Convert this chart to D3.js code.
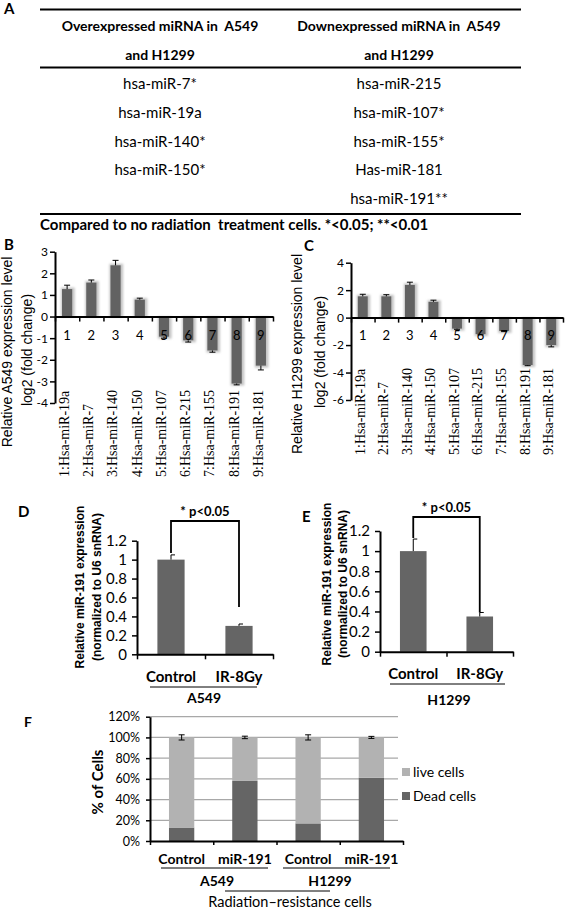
<!DOCTYPE html>
<html><head><meta charset="utf-8">
<script src="https://cdn.jsdelivr.net/npm/d3@7"></script>
<style>body{margin:0;background:#fff}svg{display:block}text{white-space:pre}</style>
</head><body><svg id="c" width="567" height="911"></svg>
<script>
// ---------------- DATA ----------------
const tableHeaders = [["Overexpressed miRNA in  A549", "and H1299"], ["Downexpressed miRNA in  A549", "and H1299"]];
const overexpressed = ["hsa-miR-7*", "hsa-miR-19a", "hsa-miR-140*", "hsa-miR-150*"];
const downexpressed = ["hsa-miR-215", "hsa-miR-107*", "hsa-miR-155*", "Has-miR-181", "hsa-miR-191**"];
const footnote = "Compared to no radiation  treatment cells. *<0.05; **<0.01";

const mirNumbers = ["1", "2", "3", "4", "5", "6", "7", "8", "9"];
const mirLabels = ["1:Hsa-miR-19a", "2:Hsa-miR-7", "3:Hsa-miR-140", "4:Hsa-miR-150", "5:Hsa-miR-107",
  "6:Hsa-miR-215", "7:Hsa-miR-155", "8:Hsa-miR-191", "9:Hsa-miR-181"];
const a549Fold = [1.27, 1.57, 2.37, 0.78, -0.93, -1.1, -1.57, -3.1, -2.27];
const a549FoldErr = [0.18, 0.12, 0.23, 0.07, 0.07, 0.08, 0.08, 0.06, 0.2];
const h1299Fold = [1.55, 1.55, 2.38, 1.15, -0.8, -1.2, -0.97, -3.45, -2.0];
const h1299FoldErr = [0.15, 0.12, 0.2, 0.12, 0.05, 0.05, 0.05, 0.05, 0.13];
const a549FoldTicks = [-4, -3, -2, -1, 0, 1, 2, 3];
const h1299FoldTicks = [-6, -4, -2, 0, 2, 4];

const expCategories = ["Control", "IR-8Gy"];
const a549Mir191 = [1.0, 0.30];
const a549Mir191Err = [0.05, 0.02];
const h1299Mir191 = [1.0, 0.35];
const h1299Mir191Err = [0.12, 0.04];
const expTicks = [0, 0.2, 0.4, 0.6, 0.8, 1, 1.2];
const pLabel = "* p<0.05";

const deathGroups = ["Control", "miR-191", "Control", "miR-191"];
const deathCellLines = ["A549", "H1299"];
const deadCells = [13, 58, 17, 61];
const liveCells = [87, 42, 83, 39];
const totalErr = [2.5, 1.2, 2.5, 1.0];
const pctTicks = [0, 20, 40, 60, 80, 100, 120];
const legendLabels = ["live cells", "Dead cells"];

// ---------------- STYLE ----------------
const CAL = "Lato, 'Open Sans', sans-serif";
const ARI = "'Liberation Sans', Arial, sans-serif";
const TNR = "'Liberation Serif', 'Times New Roman', serif";
const DARK = "#656565", LIGHT = "#b2b2b2";

const svg = d3.select("#c");
svg.append("rect").attr("width", 567).attr("height", 911).attr("fill", "#fff");
const defs = svg.append("defs");
defs.append("filter").attr("id", "glow").attr("x", "-50%").attr("y", "-20%").attr("width", "200%").attr("height", "140%")
  .append("feGaussianBlur").attr("stdDeviation", 1.3);

function txt(g, s, x, y, o = {}) {
  return g.append("text").text(s).attr("x", x).attr("y", y)
    .attr("font-family", o.f || CAL).attr("font-size", o.s || 14)
    .attr("font-weight", o.w || "normal").attr("text-anchor", o.a || "start").attr("fill", "#000");
}
function hline(x1, x2, y, w = 1) {
  svg.append("line").attr("x1", x1).attr("x2", x2).attr("y1", y).attr("y2", y).attr("stroke", "#000").attr("stroke-width", w);
}
function rotLabel(g, s, x, cy, o = {}) {
  return g.append("text").text(s).attr("transform", `translate(${x},${cy}) rotate(-90)`)
    .attr("text-anchor", "middle").attr("dy", "0.35em")
    .attr("font-family", o.f || ARI).attr("font-size", o.s || 15).attr("font-weight", o.w || "normal");
}
function styleAxis(ax, fs, font) {
  ax.select(".domain").attr("stroke", "#000").attr("stroke-width", 2);
  ax.selectAll(".tick line").attr("stroke", "#000").attr("stroke-width", 1.5);
  ax.selectAll(".tick text").attr("font-family", font || CAL).attr("font-size", fs).attr("fill", "#000");
}

// ---------------- PANEL A (table) ----------------
txt(svg, "A", 4, 14, { w: "bold", s: 15 });
hline(40, 521, 9.5, 1.8);
const colX = [160, 399];
tableHeaders.forEach((h, c) => {
  txt(svg, h[0], colX[c], 31, { w: "bold", a: "middle", s: 14 });
  txt(svg, h[1], colX[c], 60, { w: "bold", a: "middle", s: 14 });
});
hline(40, 521, 67.5, 1.8);
const rowY = d3.scalePoint().domain(d3.range(5)).range([89, 204]);
overexpressed.forEach((s, i) => txt(svg, s, colX[0], rowY(i), { a: "middle", s: 15 }));
downexpressed.forEach((s, i) => txt(svg, s, colX[1], rowY(i), { a: "middle", s: 15 }));
hline(40, 521, 214, 1.8);
txt(svg, footnote, 40, 230, { w: "bold", s: 15 });

// ---------------- PANELS B, C ----------------
function foldPanel(o) {
  const g = svg.append("g");
  const n = o.values.length;
  const x = d3.scaleBand().domain(d3.range(n)).range(o.xr).paddingInner(0.58).paddingOuter(0.29);
  const y = d3.scaleLinear().domain(d3.extent(o.ticks)).range(o.yr);
  const y0 = y(0);
  g.selectAll(".sh").data(o.values).join("rect")
    .attr("x", (d, i) => x(i) - 1).attr("width", x.bandwidth() + 3.5)
    .attr("y", d => Math.min(y(d), y0) - (d > 0 ? 1.5 : 0))
    .attr("height", d => Math.abs(y(d) - y0) + 2)
    .attr("fill", "#c4c4c4").attr("filter", "url(#glow)");
  g.selectAll(".bar").data(o.values).join("rect")
    .attr("x", (d, i) => x(i)).attr("width", x.bandwidth())
    .attr("y", d => Math.min(y(d), y0)).attr("height", d => Math.abs(y(d) - y0))
    .attr("fill", "#626262");
  o.values.forEach((v, i) => {
    const cx = x(i) + x.bandwidth() / 2;
    const e = v + Math.sign(v) * o.errs[i];
    g.append("line").attr("x1", cx).attr("x2", cx).attr("y1", y(v)).attr("y2", y(e)).attr("stroke", "#000").attr("stroke-width", 1);
    g.append("line").attr("x1", cx - 3).attr("x2", cx + 3).attr("y1", y(e)).attr("y2", y(e)).attr("stroke", "#000").attr("stroke-width", 1);
  });
  rotLabel(g, o.ylab[0], o.ylx[0], o.lcy, { s: 14 });
  rotLabel(g, o.ylab[1], o.ylx[1], o.lcy - 2, { s: 14 });
  const ya = g.append("g").attr("transform", `translate(${o.xr[0]},0)`)
    .call(d3.axisLeft(y).tickValues(o.ticks).tickSize(5).tickSizeOuter(0).tickPadding(2).tickFormat(d => d < 0 ? "\u2011" + Math.abs(d) : String(d)));
  styleAxis(ya, 12);
  const xl = d3.scaleLinear().domain([0, n]).range(o.xr);
  const xa = g.append("g").attr("transform", `translate(0,${y0})`)
    .call(d3.axisBottom(xl).tickValues(d3.range(n + 1)).tickSize(5).tickSizeOuter(0).tickFormat(""));
  styleAxis(xa, 12);
  mirNumbers.forEach((s, i) => txt(g, s, x(i) + x.bandwidth() / 2, o.numY, { a: "middle", s: 13 }));
  mirLabels.forEach((s, i) => {
    g.append("text").text(s)
      .attr("transform", `translate(${x(i) + x.bandwidth() / 2 - 3},${o.labY}) rotate(-90)`)
      .attr("dy", "0.35em").attr("font-family", TNR).attr("font-size", 14);
  });
  txt(g, o.letter, o.lp[0], o.lp[1], { w: "bold", s: 15 });
}
foldPanel({ values: a549Fold, errs: a549FoldErr, ticks: a549FoldTicks, xr: [55, 273], yr: [403, 251.7],
  numY: 340, labY: 477, ylab: ["Relative A549 expression level", "log2 (fold change)"], ylx: [7, 27], lcy: 352,
  letter: "B", lp: [4, 250] });
foldPanel({ values: h1299Fold, errs: h1299FoldErr, ticks: h1299FoldTicks, xr: [351, 563], yr: [400, 262.7],
  numY: 340, labY: 455, ylab: ["Relative H1299 expression level", "log2 (fold change)"], ylx: [297, 320], lcy: 354,
  letter: "C", lp: [304, 251] });

// ---------------- PANELS D, E ----------------
function expPanel(o) {
  const g = svg.append("g");
  const x = d3.scaleBand().domain(expCategories).range(o.xr).paddingInner(0.6).paddingOuter(0.3);
  const y = d3.scaleLinear().domain([0, 1.2]).range(o.yr);
  const cx = c => x(c) + x.bandwidth() / 2;
  g.selectAll(".bar").data(o.values).join("rect")
    .attr("x", (d, i) => x(expCategories[i])).attr("width", x.bandwidth())
    .attr("y", d => y(d)).attr("height", d => y(0) - y(d)).attr("fill", DARK);
  o.values.forEach((v, i) => {
    const c = cx(expCategories[i]);
    g.append("line").attr("x1", c).attr("x2", c).attr("y1", y(v)).attr("y2", y(v + o.errs[i])).attr("stroke", "#000").attr("stroke-width", 1);
    g.append("line").attr("x1", c).attr("x2", c + 4).attr("y1", y(v + o.errs[i])).attr("y2", y(v + o.errs[i])).attr("stroke", "#000").attr("stroke-width", 1);
  });
  const ya = g.append("g").attr("transform", `translate(${o.xr[0]},0)`)
    .call(d3.axisLeft(y).tickValues(expTicks).tickSize(5).tickSizeOuter(0).tickPadding(5).tickFormat(d3.format("~g")));
  styleAxis(ya, 15);
  const xl = d3.scaleLinear().domain([0, 2]).range(o.xr);
  const xa = g.append("g").attr("transform", `translate(0,${y(0)})`)
    .call(d3.axisBottom(xl).tickValues([0, 1, 2]).tickSize(5).tickSizeOuter(0).tickFormat(""));
  styleAxis(xa, 12);
  const c1 = cx(expCategories[0]), c2 = cx(expCategories[1]);
  g.append("path").attr("d", `M${c1},${y(o.bl)} V${o.by} H${c2} V${y(o.br)}`)
    .attr("fill", "none").attr("stroke", "#000").attr("stroke-width", 1.8);
  txt(g, pLabel, (c1 + c2) / 2, o.by - 5, { w: "bold", s: 13, a: "middle" });
  expCategories.forEach(c => txt(g, c, cx(c), o.catY, { w: "bold", s: 15, a: "middle" }));
  g.append("line").attr("x1", o.ul[0]).attr("x2", o.ul[1]).attr("y1", o.catY + 5).attr("y2", o.catY + 5).attr("stroke", "#000").attr("stroke-width", 1);
  txt(g, o.line, o.lineX, o.lineY, { w: "bold", s: 14, a: "middle" });
  rotLabel(g, "Relative miR-191 expression", o.ylx[0], o.lcy, { s: 12, w: "bold" });
  rotLabel(g, "(normalized to U6 snRNA)", o.ylx[1], o.lcy, { s: 12, w: "bold" });
  txt(g, o.letter, o.lp[0], o.lp[1], { w: "bold", s: 15 });
}
expPanel({ values: a549Mir191, errs: a549Mir191Err, xr: [137, 273], yr: [654.3, 540.7], bl: 1.07, br: 0.5, by: 521,
  catY: 682, ul: [150, 257], line: deathCellLines[0], lineX: 204, lineY: 703, ylx: [80, 97], lcy: 587,
  letter: "D", lp: [18, 517] });
expPanel({ values: h1299Mir191, errs: h1299Mir191Err, xr: [380, 513], yr: [651.7, 531], bl: 1.13, br: 0.39, by: 517,
  catY: 679, ul: [390, 505], line: deathCellLines[1], lineX: 449, lineY: 705, ylx: [327, 343], lcy: 584,
  letter: "E", lp: [302, 522] });

// ---------------- PANEL F ----------------
(function () {
  const g = svg.append("g");
  const xr = [150, 403];
  const x = d3.scaleBand().domain(d3.range(deathGroups.length)).range(xr).paddingInner(0.6).paddingOuter(0.3);
  const y = d3.scaleLinear().domain([0, 120]).range([841, 716.7]);
  g.selectAll(".grid").data(pctTicks.slice(1)).join("line")
    .attr("x1", xr[0]).attr("x2", 398).attr("y1", d => y(d)).attr("y2", d => y(d))
    .attr("stroke", "#a8a8a8").attr("stroke-width", 1.2);
  const stack = d3.stack().keys(["dead", "live"])(deadCells.map((d, i) => ({ i, dead: d, live: liveCells[i] })));
  const colors = { dead: DARK, live: LIGHT };
  stack.forEach(s => {
    g.selectAll(".b" + s.key).data(s).join("rect")
      .attr("x", d => x(d.data.i)).attr("width", x.bandwidth())
      .attr("y", d => y(d[1])).attr("height", d => y(d[0]) - y(d[1])).attr("fill", colors[s.key]);
  });
  deadCells.forEach((d, i) => {
    const c = x(i) + x.bandwidth() / 2, top = d + liveCells[i];
    const a = y(top + totalErr[i]), b = y(top - totalErr[i]);
    g.append("path").attr("d", `M${c - 3},${a}H${c + 3}M${c},${a}V${b}M${c - 3},${b}H${c + 3}`)
      .attr("stroke", "#000").attr("stroke-width", 1).attr("fill", "none");
  });
  const ya = g.append("g").attr("transform", `translate(${xr[0]},0)`)
    .call(d3.axisLeft(y).tickValues(pctTicks).tickSize(4).tickSizeOuter(0).tickPadding(6).tickFormat(d => d + "%"));
  styleAxis(ya, 12.5);
  const xl = d3.scaleLinear().domain([0, deathGroups.length]).range(xr);
  const xa = g.append("g").attr("transform", `translate(0,${y(0)})`)
    .call(d3.axisBottom(xl).tickValues(d3.range(deathGroups.length + 1)).tickSize(4).tickSizeOuter(0).tickFormat(""));
  styleAxis(xa, 12);
  legendLabels.forEach((s, i) => {
    const ly = 772 + i * 24;
    g.append("rect").attr("x", 402).attr("y", ly - 4).attr("width", 8).attr("height", 8).attr("fill", i === 0 ? LIGHT : DARK);
    txt(g, s, 413, ly + 5, { s: 14 });
  });
  rotLabel(g, "% of Cells", 98, 782, { f: CAL, s: 15, w: "bold" });
  deathGroups.forEach((s, i) => txt(g, s, x(i) + x.bandwidth() / 2, 864, { w: "bold", s: 14, a: "middle" }));
  hline(161, 268, 868, 1);
  hline(283, 390, 868, 1);
  txt(g, deathCellLines[0], 217, 886, { w: "bold", s: 14, a: "middle" });
  txt(g, deathCellLines[1], 330, 886, { w: "bold", s: 14, a: "middle" });
  hline(225, 330, 891, 1);
  txt(g, "Radiation\u2013resistance cells", 290, 907, { s: 14.5, a: "middle" });
  txt(g, "F", 24, 727, { w: "bold", s: 14 });
})();
</script></body></html>
